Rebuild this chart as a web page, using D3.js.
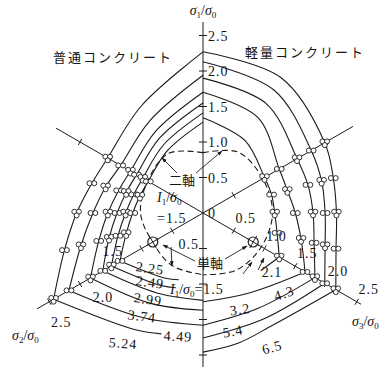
<!DOCTYPE html>
<html><head><meta charset="utf-8">
<script src="https://cdn.jsdelivr.net/npm/d3@7"></script>
<style>
body{margin:0;background:#fff}
svg{display:block}
text{fill:#151515}
.num{font-family:"Liberation Serif","DejaVu Serif",serif;font-size:14px;letter-spacing:1px}
.jp{font-family:"Noto Sans CJK JP",sans-serif;font-size:13px}
.sym{font-family:"Liberation Serif","DejaVu Serif",serif;font-size:14px}
</style></head><body>
<svg id="chart" width="386" height="367"></svg>
<script>
// Deviatoric (octahedral) sections of the concrete failure surface.
// Radii are rho/sigma0 read at Lode angles (deg from the sigma1 axis).
const upperAngles = [0, 30, 60, 75, 90, 105, 120];
const testAngles = [60, 75, 90, 105, 120];

// Normal-weight concrete, I1/sigma0 levels (left half)
const normalLevels = ["5.24", "4.49", "3.74", "2.99", "2.49", "2.25"];
const normalUpper = [
  [2.27, 1.74, 1.55, 1.62, 1.78, 2.02, 2.43],
  [1.94, 1.50, 1.34, 1.42, 1.55, 1.78, 2.18],
  [1.70, 1.33, 1.18, 1.23, 1.34, 1.52, 1.83],
  [1.55, 1.22, 1.08, 1.12, 1.21, 1.37, 1.63],
  [1.41, 1.11, 0.98, 1.01, 1.09, 1.24, 1.49],
  [1.28, 1.01, 0.89, 0.92, 0.99, 1.12, 1.35]
];
const normalLowerAngles = [[120, 150, 161], [120, 150, 180], [120, 150, 180], [120, 150, 180], [120, 150, 160], [120, 150, 160]];
const normalLower = [[2.43, 1.90, 1.80], [2.18, 1.70, 1.58], [1.83, 1.47, 1.37], [1.63, 1.30, 1.23], [1.49, 1.18, 1.12], [1.35, 1.06, 1.00]];

// Lightweight concrete, I1/sigma0 levels (right half)
const lightLevels = ["6.5", "5.4", "4.3", "3.2", "2.1"];
const lightUpper = [
  [2.27, 2.20, 1.98, 1.90, 1.88, 1.94, 2.16],
  [2.13, 2.00, 1.76, 1.73, 1.72, 1.78, 1.98],
  [1.90, 1.78, 1.53, 1.53, 1.55, 1.62, 1.82],
  [1.70, 1.55, 1.24, 1.23, 1.30, 1.43, 1.66],
  [1.34, 1.18, 1.00, 1.00, 1.01, 1.08, 1.24]
];
const lightLowerAngles = [[120, 148, 165, 180], [120, 150, 180], [120, 150, 180], [120, 150, 180], [120, 135]];
const lightLower = [[2.16, 1.86, 1.90, 1.96], [1.98, 1.72, 1.76], [1.82, 1.55, 1.58], [1.66, 1.30, 1.25], [1.24, 1.15]];

// I1/sigma0 = 1.5 sections (dashed)
const dashAngles = [0, 30, 60, 90, 120, 150, 180];
const normalDash = [0.85, 0.97, 0.90, 0.88, 0.82, 0.86, 0.87];
const lightDash = [0.85, 0.99, 0.97, 0.98, 0.95, 0.93, 0.87];

// Uniaxial compression: sigma/sigma0 = 1 on the sigma2 and sigma3 axes
const uniaxialStress = 1.0;

const axisTicks = [0.5, 1.0, 1.5, 2.0, 2.5];
const sigma1Labels = ["0.5", "1.0", "1.5", "2.0", "2.5"];
const sigma3Labels = ["0.5", "1.0", "1.5", "2.0", "2.5"];
const sigma2Labels = ["1.5", "2.0", "2.5"];

// ---------------------------------------------------------------
const svg = d3.select("#chart");
const cx = 203, cy = 213;
const r = d3.scaleLinear().domain([0, 1]).range([0, 71]);
const rad = a => a * Math.PI / 180;
const pt = (a, rho) => d3.pointRadial(rad(a), r(rho));

const defs = svg.append("defs");
defs.append("marker").attr("id", "ah").attr("viewBox", "0 0 10 10")
  .attr("refX", 9).attr("refY", 5).attr("markerWidth", 6).attr("markerHeight", 6)
  .attr("orient", "auto")
  .append("path").attr("d", "M0,1.5L10,5L0,8.5z").attr("fill", "#151515");

const g = svg.append("g").attr("transform", `translate(${cx},${cy})`);
const ink = "#1c1c1c";

// axes through the origin
const halfAxes = [
  { a: 0, len: 2.69 }, { a: 180, len: 2.2 },
  { a: 120, len: 2.57 }, { a: -60, len: 2.39 },
  { a: -120, len: 2.70 }, { a: 60, len: 2.44 }
];
halfAxes.forEach(ax => {
  const [x2, y2] = pt(ax.a, ax.len);
  g.append("line").attr("x1", 0).attr("y1", 0).attr("x2", x2).attr("y2", y2)
    .attr("stroke", ink).attr("stroke-width", 1);
  const n = [Math.cos(rad(ax.a)), Math.sin(rad(ax.a))];
  axisTicks.filter(t => t < ax.len - 0.05).forEach(t => {
    const [px, py] = pt(ax.a, t);
    const h = ax.a === 0 || ax.a === 180 ? 4 : 3.5;
    g.append("line")
      .attr("x1", px - h * n[0]).attr("y1", py - h * n[1])
      .attr("x2", px + h * n[0]).attr("y2", py + h * n[1])
      .attr("stroke", ink).attr("stroke-width", 1);
  });
});

// failure-surface sections
const radial = side => d3.lineRadial()
  .angle(d => side * rad(d[0])).radius(d => r(d[1]))
  .curve(d3.curveCatmullRom.alpha(0.5));

function drawFamily(side, upper, lowerAngles, lower) {
  upper.forEach((vals, i) => {
    g.append("path").attr("d", radial(side)(upperAngles.map((a, k) => [a, vals[k]])))
      .attr("fill", "none").attr("stroke", ink).attr("stroke-width", 1.1);
    g.append("path").attr("d", radial(side)(lowerAngles[i].map((a, k) => [a, lower[i][k]])))
      .attr("fill", "none").attr("stroke", ink).attr("stroke-width", 1.1);
  });
}
drawFamily(-1, normalUpper, normalLowerAngles, normalLower);
drawFamily(1, lightUpper, lightLowerAngles, lightLower);

[[-1, normalDash], [1, lightDash]].forEach(([side, vals]) => {
  g.append("path").attr("d", radial(side)(dashAngles.map((a, k) => [a, vals[k]])))
    .attr("fill", "none").attr("stroke", ink).attr("stroke-width", 1.1)
    .attr("stroke-dasharray", "6,3.5");
});

// test points (small circle groups) on each section
const trio = [[-2.3, -1.3], [2.3, -1.3], [0, 2.4]];
const duo = [[-2.4, 0], [2.4, 0]];
function drawPoints(side, upper) {
  upper.forEach((vals, i) => {
    testAngles.forEach((a, j) => {
      const k = upperAngles.indexOf(a);
      const [px, py] = pt(side * a, vals[k]);
      const glyph = (i + j) % 2 === 0 ? trio : duo;
      glyph.forEach(([ox, oy]) => {
        g.append("circle").attr("cx", px + ox).attr("cy", py + oy).attr("r", 2.5)
          .attr("fill", "#fff").attr("stroke", ink).attr("stroke-width", 0.9);
      });
    });
  });
}
drawPoints(-1, normalUpper);
drawPoints(1, lightUpper);

// uniaxial points
[-120, 120].forEach(a => {
  const rho = Math.sqrt(2 / 3) * uniaxialStress;
  const [px, py] = pt(a, rho);
  const u = [Math.sin(rad(a)), -Math.cos(rad(a))];
  const n = [Math.cos(rad(a)), Math.sin(rad(a))];
  g.append("circle").attr("cx", px).attr("cy", py).attr("r", 5)
    .attr("fill", "#fff").attr("stroke", ink).attr("stroke-width", 1.2);
  [u, n].forEach(v => g.append("line")
    .attr("x1", px - 7 * v[0]).attr("y1", py - 7 * v[1])
    .attr("x2", px + 7 * v[0]).attr("y2", py + 7 * v[1])
    .attr("stroke", ink).attr("stroke-width", 1));
});

// tick labels
sigma1Labels.forEach((s, i) => {
  const [, py] = pt(0, axisTicks[i]);
  g.append("text").attr("class", "num").attr("x", 5).attr("y", py).attr("dy", "0.36em").text(s);
});
g.append("text").attr("class", "num").attr("x", 5).attr("y", 0).attr("dy", "0.36em").text("0");
{
  const [, py] = pt(180, 0.5);
  g.append("text").attr("class", "num").attr("x", -4).attr("y", py - 5)
    .attr("dy", "0.36em").attr("text-anchor", "end").text("0.5");
}
sigma3Labels.forEach((s, i) => {
  const [px, py] = pt(120, axisTicks[i]);
  g.append("text").attr("class", "num").attr("x", px + 12).attr("y", py - 13)
    .attr("dy", "0.36em").attr("text-anchor", "middle").text(s);
});
const sigma2Shift = [[2, -15], [23, 13], [12, 20]];
sigma2Labels.forEach((s, i) => {
  const [px, py] = pt(-120, +s);
  g.append("text").attr("class", "num").attr("x", px + sigma2Shift[i][0]).attr("y", py + sigma2Shift[i][1])
    .attr("dy", "0.36em").attr("text-anchor", "middle").text(s);
});

// level labels of the sections
const normalLabelPos = [[123, 343, 4], [178, 336, 3], [142, 316, 7], [148, 299, 8], [150, 282, 8], [150, 268, 8]];
const lightLabelPos = [[272, 347, -15], [233, 331, -10], [284, 293, -18], [240, 309, -8], [272, 272, 0]];
function levelLabels(levels, pos) {
  levels.forEach((s, i) => {
    const [x, y, rot] = pos[i];
    svg.append("text").attr("class", "num").attr("text-anchor", "middle")
      .attr("transform", `translate(${x},${y}) rotate(${rot})`).attr("dy", "0.36em").text(s);
  });
}
levelLabels(normalLevels, normalLabelPos);
levelLabels(lightLevels, lightLabelPos);

// ratio labels with subscripts
function ratio(x, y, main, sub, anchor, tail) {
  const t = svg.append("text").attr("class", "sym").attr("x", x).attr("y", y)
    .attr("text-anchor", anchor || "start");
  t.append("tspan").attr("font-style", "italic").text(main);
  t.append("tspan").attr("font-size", 9).attr("dy", 3).text(sub);
  t.append("tspan").attr("dy", -3).text("/");
  t.append("tspan").attr("font-style", "italic").text("σ");
  t.append("tspan").attr("font-size", 9).attr("dy", 3).text("0");
  if (tail) t.append("tspan").attr("dy", -3).attr("class", "num").text(tail);
  return t;
}
ratio(203, 15, "σ", "1", "middle");
ratio(12, 340, "σ", "2");
ratio(352, 326, "σ", "3");
ratio(157, 202, "I", "1");
svg.append("text").attr("class", "num").attr("x", 157).attr("y", 223).text("=1.5");
ratio(170, 294, "I", "1", "start", "=1.5");

// titles and notes
svg.append("text").attr("class", "jp").attr("x", 113).attr("y", 62)
  .attr("text-anchor", "middle").attr("letter-spacing", 2).text("普通コンクリート");
svg.append("text").attr("class", "jp").attr("x", 305).attr("y", 57)
  .attr("text-anchor", "middle").attr("letter-spacing", 2).text("軽量コンクリート");
svg.append("text").attr("class", "jp").attr("x", 182).attr("y", 185)
  .attr("text-anchor", "middle").text("二軸");
svg.append("text").attr("class", "jp").attr("x", 210).attr("y", 268)
  .attr("text-anchor", "middle").text("単軸");

// leader arrows
const leaders = [
  [[177, 173], [162, 158]], [[196, 173], [222, 151]],
  [[195, 261], [163, 245]], [[225, 259], [247, 246]],
  [[243, 274], [252, 262]], [[258, 270], [264, 258]],
  [[171, 247], [172, 266]]
];
leaders.forEach(([a, b]) => {
  svg.append("line").attr("x1", a[0]).attr("y1", a[1]).attr("x2", b[0]).attr("y2", b[1])
    .attr("stroke", ink).attr("stroke-width", 0.9).attr("marker-end", "url(#ah)");
});
</script>
</body></html>
